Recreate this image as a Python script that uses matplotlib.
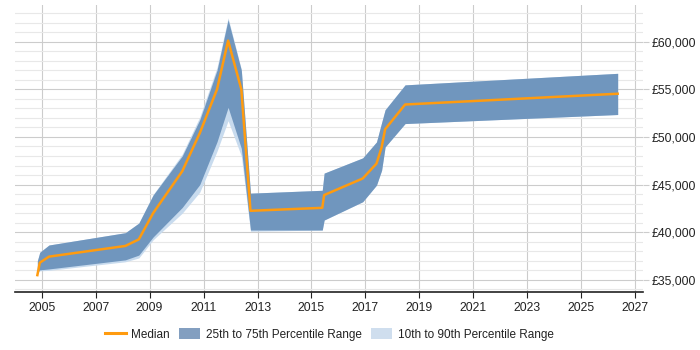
import numpy as np
import matplotlib
matplotlib.use("Agg")
import matplotlib.pyplot as plt
from matplotlib.ticker import MultipleLocator, FuncFormatter
from matplotlib.patches import Patch
from matplotlib.lines import Line2D

plt.rcParams['font.family'] = ['Liberation Sans', 'DejaVu Sans']

# data
years = [2004.84, 2004.93, 2005.27, 2008.1, 2008.6, 2009.13, 2010.21, 2010.86,
         2011.5, 2011.91, 2012.4, 2012.74, 2015.4, 2015.47, 2016.9, 2017.41,
         2017.6, 2017.73, 2018.47, 2026.35]
median = [35500, 36800, 37440, 38560, 39250, 42000, 46400, 50400,
          55000, 60100, 55000, 42250, 42560, 43900, 45640, 47200,
          48900, 50800, 53400, 54530]
p75 = [37000, 37900, 38660, 39950, 40960, 43900, 48000, 51800,
       57000, 62300, 57000, 44100, 44400, 46200, 47800, 49470,
       51500, 52850, 55460, 56670]
p25 = [35800, 36050, 36150, 37100, 37600, 39500, 42600, 45000,
       49500, 53100, 48800, 40230, 40230, 41280, 43200, 44940,
       46500, 48950, 51400, 52350]
p90 = [37000, 37900, 38660, 39950, 40960, 43950, 48200, 52100,
       57300, 62500, 57100, 44100, 44400, 46200, 47800, 49470,
       51500, 52850, 55460, 56670]
p10 = [35700, 35950, 36000, 36900, 37300, 39200, 42000, 44200,
       48500, 51700, 48000, 40100, 40230, 41280, 43200, 44940,
       46500, 48950, 51400, 52350]

dark = '#7096be'
light = '#c8dbee'
orange = '#ff9b0f'

fig = plt.figure(figsize=(7, 3.5), dpi=100)
ax = fig.add_axes([0.021, 0.166, 0.898, 0.82])

ax.fill_between(years, p10, p90, color=light, lw=0, zorder=2)
ax.fill_between(years, p25, p75, color=dark, lw=0, zorder=3)
ax.plot(years, median, color=orange, lw=1.8, zorder=4)

ax.set_xlim(2004.0, 2027.3)
ax.set_ylim(33740, 63850)
ax.set_xticks(np.arange(2005, 2028, 2))
ax.xaxis.set_major_formatter(FuncFormatter(lambda v, p: f"{int(v)}"))
ax.yaxis.set_major_locator(MultipleLocator(5000))
ax.yaxis.set_minor_locator(MultipleLocator(1000))
ax.yaxis.set_major_formatter(FuncFormatter(lambda v, p: f"£{int(v):,}"))
ax.yaxis.tick_right()

ax.grid(which='major', color='#cccccc', lw=0.8, zorder=0)
ax.grid(which='minor', axis='y', color='#e8e8e8', lw=0.8, zorder=0)
ax.set_axisbelow(True)

for s in ['top', 'left', 'right']:
    ax.spines[s].set_visible(False)
ax.spines['bottom'].set_color('#222222')
ax.spines['bottom'].set_linewidth(1.2)

ax.tick_params(axis='x', labelsize=8.7, length=4, color='#222222',
               labelcolor='#222222', pad=3)
ax.tick_params(axis='y', which='major', labelsize=8.7, length=4, color='#cccccc',
               labelcolor='#222222', pad=2)
ax.tick_params(axis='y', which='minor', length=0)

handles = [Line2D([], [], color=orange, lw=2.2),
           Patch(facecolor='#839fc0', edgecolor='none'),
           Patch(facecolor='#cfdeee', edgecolor='none')]
labels = ['Median', '25th to 75th Percentile Range', '10th to 90th Percentile Range']
fig.legend(handles, labels, loc='center', bbox_to_anchor=(0.47, 0.045), ncol=3,
           frameon=False, fontsize=8.5, handlelength=1.8, handleheight=1.1,
           columnspacing=0.8, handletextpad=0.45, labelcolor='#222222')

fig.savefig('out.png', dpi=100)
